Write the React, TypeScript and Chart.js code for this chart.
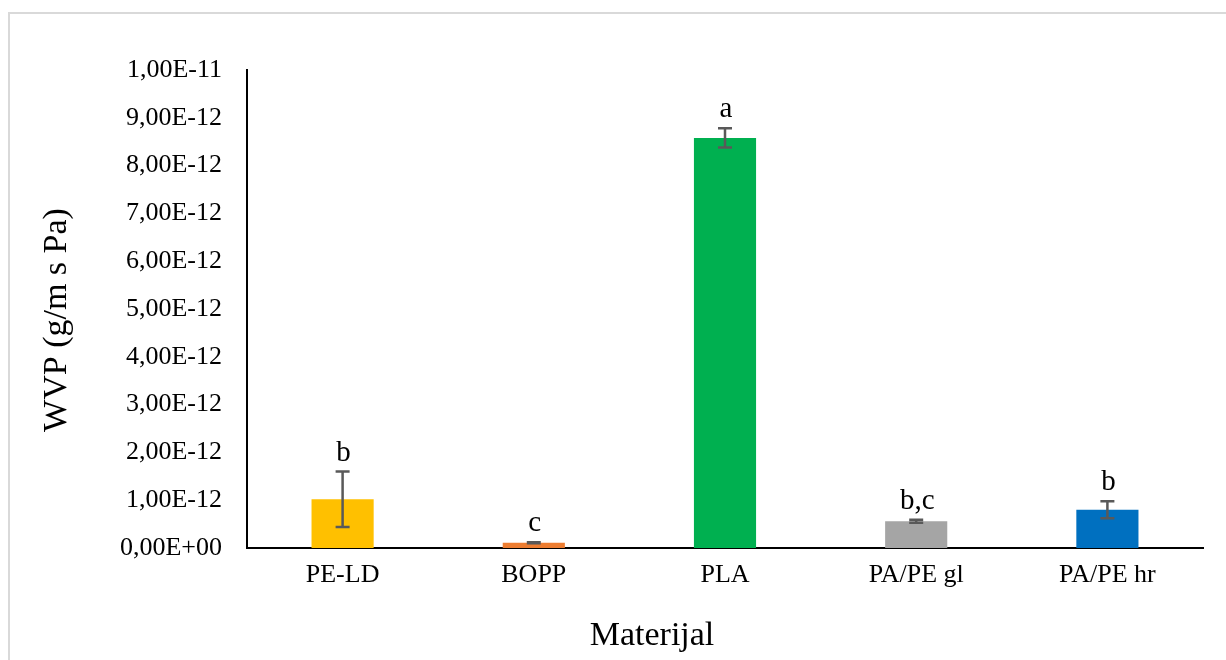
import React, { useEffect, useRef } from "react";
import { Chart, registerables } from "chart.js";

Chart.register(...registerables);

const categories = ["PE-LD", "BOPP", "PLA", "PA/PE gl", "PA/PE hr"];
const wvpValues = [1.02e-12, 0.11e-12, 8.58e-12, 0.56e-12, 0.8e-12];
const wvpErrors = [0.58e-12, 0.012e-12, 0.2e-12, 0.03e-12, 0.18e-12];
const significance = ["b", "c", "a", "b,c", "b"];
const barColors = ["#FFC000", "#ED7D31", "#00B050", "#A5A5A5", "#0070C0"];
const yMin = 0;
const yMax = 1e-11;
const yStep = 1e-12;
const xTitle = "Materijal";
const yTitle = "WVP (g/m s Pa)";

const FONT = "'Liberation Serif', 'Times New Roman', serif";

function formatSci(v: number): string {
  const s = v.toExponential(2);
  const [mant, exp] = s.split("e");
  const sign = exp[0] === "-" ? "-" : "+";
  const digits = exp.replace(/[+-]/, "").padStart(2, "0");
  return mant.replace(".", ",") + "E" + sign + digits;
}

const errorBarPlugin = {
  id: "errorBars",
  afterDatasetsDraw(chart: any) {
    const ctx = chart.ctx;
    const yScale = chart.scales.y;
    const meta = chart.getDatasetMeta(0);
    ctx.save();
    meta.data.forEach((bar: any, i: number) => {
      const v = wvpValues[i];
      const e = wvpErrors[i];
      const x = bar.x;
      const yTop = yScale.getPixelForValue(v + e);
      const yBot = yScale.getPixelForValue(v - e);
      ctx.strokeStyle = "#595959";
      ctx.lineWidth = 2.5;
      ctx.beginPath();
      ctx.moveTo(x, yTop);
      ctx.lineTo(x, yBot);
      ctx.moveTo(x - 7, yTop);
      ctx.lineTo(x + 7, yTop);
      ctx.moveTo(x - 7, yBot);
      ctx.lineTo(x + 7, yBot);
      ctx.stroke();

      ctx.fillStyle = "#000000";
      ctx.font = `29px ${FONT}`;
      ctx.textAlign = "center";
      ctx.textBaseline = "alphabetic";
      ctx.fillText(significance[i], x + 1, yTop - 11);
    });
    ctx.restore();
  },
};

const axisTitlePlugin = {
  id: "axisTitles",
  afterDraw(chart: any) {
    const ctx = chart.ctx;
    ctx.save();
    ctx.fillStyle = "#000000";
    ctx.font = `34px ${FONT}`;
    ctx.textAlign = "center";
    ctx.textBaseline = "alphabetic";
    ctx.fillText(xTitle, 652, 645);
    ctx.translate(66, 320);
    ctx.rotate(-Math.PI / 2);
    ctx.fillText(yTitle, 0, 0);
    ctx.restore();
  },
};

export default function App() {
  const canvasRef = useRef<HTMLCanvasElement | null>(null);

  useEffect(() => {
    if (!canvasRef.current) return;
    const chart = new Chart(canvasRef.current, {
      type: "bar",
      data: {
        labels: categories,
        datasets: [
          {
            data: wvpValues,
            backgroundColor: barColors,
            borderWidth: 0,
            categoryPercentage: 1,
            barPercentage: 0.325,
          },
        ],
      },
      options: {
        animation: false,
        responsive: false,
        maintainAspectRatio: false,
        layout: { padding: { left: 0, right: 23, top: 70, bottom: 0 } },
        plugins: {
          legend: { display: false },
          tooltip: { enabled: false },
        },
        scales: {
          x: {
            grid: { display: false, drawTicks: false },
            border: { display: true, color: "#000000", width: 2 },
            ticks: {
              color: "#000000",
              padding: 12,
              font: { family: FONT, size: 26 },
              maxRotation: 0,
            },
            title: { display: false },
            afterFit: (scale: any) => {
              scale.height = 112;
            },
          },
          y: {
            min: yMin,
            max: yMax,
            grid: { display: false, drawTicks: false },
            border: { display: true, color: "#000000", width: 2 },
            ticks: {
              stepSize: yStep,
              color: "#000000",
              padding: 25,
              font: { family: FONT, size: 26 },
              callback: (val: any) => formatSci(Number(val)),
            },
            title: { display: false },
            afterFit: (scale: any) => {
              scale.width = 247;
            },
          },
        },
      },
      plugins: [errorBarPlugin, axisTitlePlugin],
    });
    return () => chart.destroy();
  }, []);

  return (
    <div
      style={{
        position: "fixed",
        left: 0,
        top: 0,
        width: 1226,
        height: 660,
        overflow: "hidden",
        background: "#ffffff",
      }}
    >
      <div
        style={{
          position: "absolute",
          left: 8,
          top: 12,
          width: 1400,
          height: 800,
          borderLeft: "2px solid #d9d9d9",
          borderTop: "2px solid #d9d9d9",
        }}
      />
      <canvas
        ref={canvasRef}
        width={1226}
        height={660}
        style={{ position: "absolute", left: 0, top: 0, width: 1226, height: 660 }}
      />
    </div>
  );
}
